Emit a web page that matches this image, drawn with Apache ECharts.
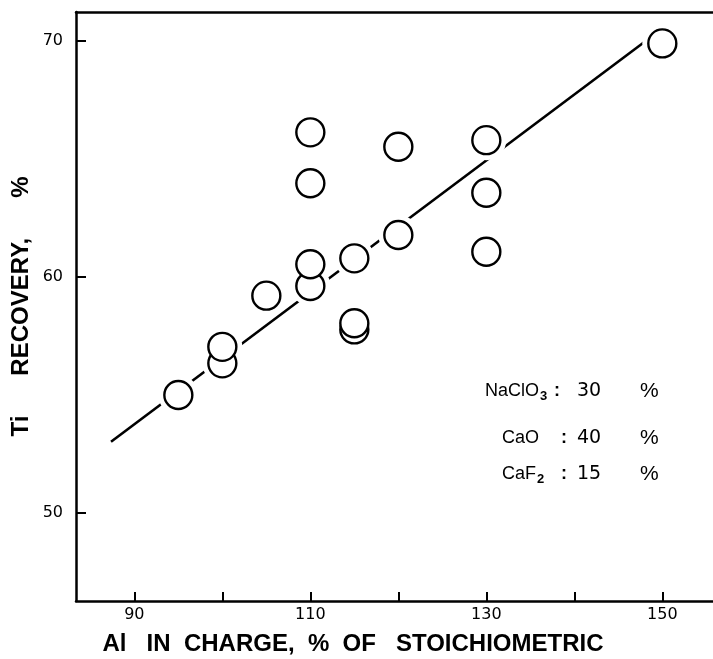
<!DOCTYPE html>
<html>
<head>
<meta charset="utf-8">
<script src="https://cdn.jsdelivr.net/npm/echarts@6/dist/echarts.min.js"></script>
<style>
  html, body { margin: 0; padding: 0; background: #fff; }
  #chart { width: 713px; height: 659px; }
</style>
</head>
<body>
<div id="chart"></div>
<script>
  // measured points: Al in charge (% of stoichiometric) vs Ti recovery (%)
  var alCharge = [95, 100, 100, 105, 110, 110, 110, 110, 115, 115, 115, 120, 120, 130, 130, 130, 150];
  var tiRecovery = [54.99, 56.33, 57.03, 59.2, 59.61, 60.53, 63.96, 66.12, 57.77, 58.03, 60.78, 61.77, 65.51, 61.06, 63.56, 65.79, 69.89];

  // hand drawn trend line (ends)
  var fitX = [87.35, 148];
  var fitY = [53.01, 69.96];

  var xTicks = [90, 100, 110, 120, 130, 140, 150];
  var xLabels = [90, 110, 130, 150];
  var yTicks = [50, 60, 70];

  var ink = '#000';
  var font = '"Liberation Sans", Arial, sans-serif';
  var wide = '"DejaVu Sans", sans-serif';

  function pairs(xs, ys) {
    var out = [];
    for (var i = 0; i < xs.length; i++) {
      out.push([xs[i], ys[i]]);
    }
    return out;
  }

  var chart = echarts.init(document.getElementById('chart'));

  // composition note on the right
  var notes = [
    { y: 391, name: '{m|NaClO}{s|3}', nameX: 485, colonX: 557, val: '30' },
    { y: 438, name: '{m|CaO}', nameX: 502, colonX: 564, val: '40' },
    { y: 474, name: '{m|CaF}{s|2}', nameX: 502, colonX: 564, val: '15' }
  ];
  var graphics = [];
  notes.forEach(function (n) {
    graphics.push({
      type: 'text', left: n.nameX, top: n.y - 9, z: 100,
      style: {
        text: n.name, fill: ink,
        rich: {
          m: { fontSize: 18, fontFamily: font, fill: ink },
          s: { fontSize: 13, fontFamily: font, fill: ink, fontWeight: 'bold', padding: [11, 0, 0, 1] }
        }
      }
    });
    graphics.push({
      type: 'text', x: n.colonX, y: n.y, z: 100,
      style: { text: ':', font: 'bold 18px ' + font, fill: ink, textAlign: 'center', textVerticalAlign: 'middle' }
    });
    graphics.push({
      type: 'text', x: 577, y: n.y, z: 100,
      style: { text: n.val, font: '19px ' + wide, fill: ink, textAlign: 'left', textVerticalAlign: 'middle' }
    });
    graphics.push({
      type: 'text', x: 640, y: n.y, z: 100,
      style: { text: '%', font: '21px ' + font, fill: ink, textAlign: 'left', textVerticalAlign: 'middle' }
    });
  });

  // axis titles
  graphics.push({
    type: 'text', x: 353, y: 644, z: 100,
    style: { text: 'Al   IN  CHARGE,  %  OF   STOICHIOMETRIC', font: 'bold 24px ' + font, fill: ink, textAlign: 'center', textVerticalAlign: 'middle' }
  });
  graphics.push({
    type: 'text', x: 21.5, y: 306.5, rotation: Math.PI / 2, z: 100,
    style: { text: 'Ti      RECOVERY,      %', font: 'bold 24px ' + font, fill: ink, textAlign: 'center', textVerticalAlign: 'middle' }
  });

  chart.setOption({
    backgroundColor: '#fff',
    animation: false,
    grid: { left: 76, right: 0, top: 12, bottom: 58 },
    xAxis: [{
      type: 'value',
      min: 83.37,
      max: 155.76,
      axisLine: { show: true, onZero: false, lineStyle: { color: ink, width: 2.5 } },
      axisTick: { show: true, inside: true, length: 9, customValues: xTicks, lineStyle: { color: ink, width: 2 } },
      axisLabel: { customValues: xLabels, margin: 6, fontSize: 16, color: ink, fontFamily: wide },
      splitLine: { show: false }
    }, {
      type: 'value',
      position: 'top',
      min: 83.37,
      max: 155.76,
      axisLine: { show: true, onZero: false, lineStyle: { color: ink, width: 2.5 } },
      axisTick: { show: false },
      axisLabel: { show: false },
      splitLine: { show: false }
    }],
    yAxis: {
      type: 'value',
      min: 46.26,
      max: 71.22,
      axisLine: { show: true, onZero: false, lineStyle: { color: ink, width: 2.5 } },
      axisTick: { show: true, inside: true, length: 10, customValues: yTicks, lineStyle: { color: ink, width: 2 } },
      axisLabel: { customValues: yTicks, margin: 13, fontSize: 16, color: ink, fontFamily: wide },
      splitLine: { show: false }
    },
    graphic: graphics,
    series: [{
      type: 'line',
      z: 1,
      data: pairs(fitX, fitY),
      symbol: 'none',
      lineStyle: { color: ink, width: 2.6 },
      silent: true
    }, {
      // white space left around each circle, as in the drawing
      type: 'scatter',
      z: 5,
      data: pairs(alCharge, tiRecovery),
      symbol: 'circle',
      symbolSize: 40,
      itemStyle: { color: '#fff', borderWidth: 0, opacity: 1 },
      silent: true
    }, {
      type: 'scatter',
      z: 6,
      data: pairs(alCharge, tiRecovery),
      symbol: 'circle',
      symbolSize: 28,
      itemStyle: { color: '#fff', borderColor: ink, borderWidth: 2.4, opacity: 1 }
    }]
  });
</script>
</body>
</html>
